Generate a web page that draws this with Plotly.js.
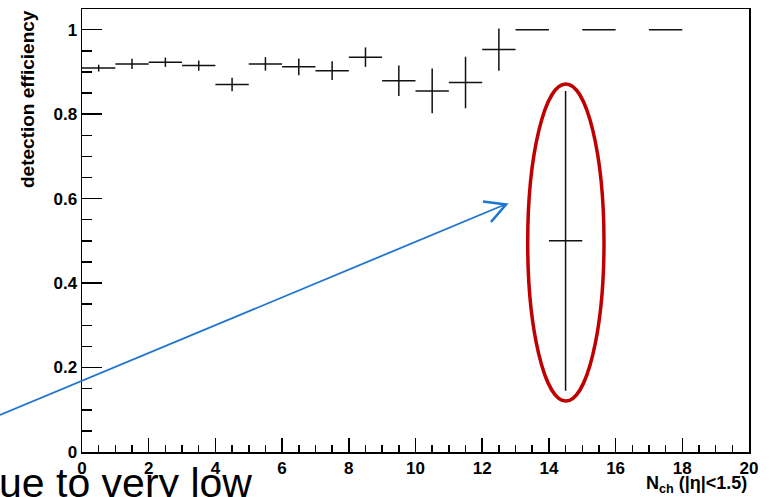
<!DOCTYPE html>
<html>
<head>
<meta charset="utf-8">
<script src="https://cdn.plot.ly/plotly-3.0.1.min.js"></script>
<style>html,body{margin:0;padding:0;background:#fff;}#chart{width:769px;height:497px;}</style>
</head>
<body>
<div id="chart"></div>
<script>
// Bin centres of N_ch (|eta|<1.5) and detection efficiency with errors
const binCenters = [0.5, 1.5, 2.5, 3.5, 4.5, 5.5, 6.5, 7.5, 8.5, 9.5, 10.5, 11.5, 12.5, 13.5, 14.5, 15.5, 17.5];
const efficiency = [0.909, 0.919, 0.923, 0.915, 0.870, 0.919, 0.912, 0.903, 0.935, 0.879, 0.855, 0.875, 0.953, 1.0, 0.5, 1.0, 1.0];
const effError  = [0.008, 0.012, 0.011, 0.012, 0.016, 0.016, 0.020, 0.022, 0.023, 0.036, 0.053, 0.061, 0.050, 0.0, 0.355, 0.0, 0.0];
const binHalfWidth = [0.5, 0.5, 0.5, 0.5, 0.5, 0.5, 0.5, 0.5, 0.5, 0.5, 0.5, 0.5, 0.5, 0.5, 0.5, 0.5, 0.5];
const xTickVals = [0, 2, 4, 6, 8, 10, 12, 14, 16, 18, 20];
const yTickVals = [0, 0.2, 0.4, 0.6, 0.8, 1];
const yTickText = ['0', '0.2', '0.4', '0.6', '0.8', '1'];

const tickFont = {family: 'Liberation Sans, Arial, sans-serif', size: 17, color: '#000', weight: 'bold'};

// pixel -> paper helpers for the hand-drawn overlay (ellipse, arrow)
const L = 82, T = 9, W = 667, H = 443;
const px = v => (v - L) / W;
const py = v => (T + H - v) / H;

const trace = {
  type: 'scatter',
  mode: 'markers',
  x: binCenters,
  y: efficiency,
  marker: {size: 2, color: 'rgba(0,0,0,0)'},
  error_y: {type: 'data', array: effError, visible: true, color: '#111', thickness: 1.5, width: 0},
  error_x: {type: 'data', array: binHalfWidth, visible: true, color: '#111', thickness: 1.5, width: 0},
  showlegend: false,
  hoverinfo: 'skip'
};

const layout = {
  width: 769,
  height: 497,
  margin: {l: 82, r: 20, t: 9, b: 45, pad: 0},
  paper_bgcolor: '#fff',
  plot_bgcolor: '#fff',
  showlegend: false,
  xaxis: {
    range: [0, 20],
    showgrid: false,
    zeroline: false,
    showline: true,
    linecolor: '#000',
    linewidth: 1.5,
    mirror: true,
    ticks: 'inside',
    ticklen: 14,
    tickwidth: 1.5,
    tickcolor: '#000',
    tickvals: xTickVals,
    ticktext: xTickVals.map(String),
    tickfont: tickFont,
    minor: {dtick: 0.5, ticks: 'inside', ticklen: 7, tickwidth: 1.5, tickcolor: '#000', showgrid: false}
  },
  yaxis: {
    range: [0, 1.049],
    showgrid: false,
    zeroline: false,
    showline: true,
    linecolor: '#000',
    linewidth: 1.5,
    mirror: true,
    ticks: 'inside',
    ticklen: 20,
    tickwidth: 1.5,
    tickcolor: '#000',
    tickvals: yTickVals,
    ticktext: yTickText,
    tickfont: tickFont,
    minor: {dtick: 0.05, ticks: 'inside', ticklen: 10, tickwidth: 1.5, tickcolor: '#000', showgrid: false}
  },
  shapes: [
    {type: 'circle', xref: 'paper', yref: 'paper',
     x0: px(527.7), x1: px(604), y0: py(401), y1: py(84),
     line: {color: '#c00000', width: 3.5}, fillcolor: 'rgba(0,0,0,0)'},
    {type: 'line', xref: 'paper', yref: 'paper',
     x0: px(0), y0: py(415), x1: px(505), y1: py(204.5),
     line: {color: '#1f74d0', width: 1.8}},
    {type: 'path', xref: 'paper', yref: 'paper',
     path: 'M' + px(483) + ',' + py(201.5) + ' L' + px(506) + ',' + py(204.5) + ' L' + px(491) + ',' + py(222),
     line: {color: '#1f74d0', width: 2.6}, fillcolor: 'rgba(0,0,0,0)'}
  ],
  annotations: [
    {text: 'detection efficiency', xref: 'paper', yref: 'paper',
     x: px(27), y: py(8), xanchor: 'center', yanchor: 'top',
     textangle: -90, showarrow: false,
     font: {family: 'Liberation Sans, Arial, sans-serif', size: 19, color: '#000', weight: 'bold'}},
    {text: 'N<sub>ch</sub> (|η|&lt;1.5)', xref: 'paper', yref: 'paper',
     x: 1, y: py(484), xanchor: 'right', yanchor: 'middle',
     showarrow: false,
     font: {family: 'Liberation Sans, Arial, sans-serif', size: 18, color: '#000', weight: 'bold'}},
    {text: 'ue to very low', xref: 'paper', yref: 'paper',
     x: px(-3), y: py(458), xanchor: 'left', yanchor: 'top',
     showarrow: false,
     font: {family: 'Liberation Sans, Arial, sans-serif', size: 41, color: '#000'}}
  ]
};

Plotly.newPlot('chart', [trace], layout, {displayModeBar: false, staticPlot: true});
</script>
</body>
</html>
